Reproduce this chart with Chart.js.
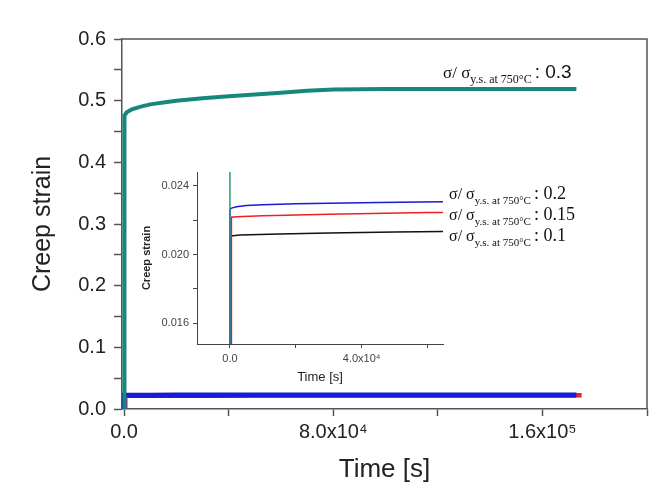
<!DOCTYPE html>
<html>
<head>
<meta charset="utf-8">
<script src="https://cdn.jsdelivr.net/npm/chart.js@4.4.0/dist/chart.umd.min.js"></script>
<style>
  html, body { margin: 0; padding: 0; background: #fff; }
  #wrap { position: relative; width: 663px; height: 499px; }
  #main { position: absolute; left: 0; top: 0; }
  #inset { position: absolute; left: 133px; top: 160px; }
</style>
</head>
<body>
<div id="wrap">
  <canvas id="main" width="663" height="499" style="width:663px;height:499px"></canvas>
  <canvas id="inset" width="330" height="235" style="width:330px;height:235px"></canvas>
</div>
<script>
"use strict";

// --- data (time in s, creep strain) ---
const T_03 = [0, 0, 300, 1000, 3000, 6000, 10000, 15000, 20000, 30000, 40000, 50000, 60000, 70000, 80000, 100000, 130000, 173000];
const S_03 = [0, 0.47, 0.476, 0.481, 0.486, 0.490, 0.494, 0.497, 0.500, 0.504, 0.507, 0.510, 0.513, 0.516, 0.518, 0.519, 0.519, 0.519];

const T_02 = [0, 0, 500, 2000, 5000, 10000, 20000, 30000, 45000, 65000, 100000, 173000];
const S_02 = [0, 0.02264, 0.02270, 0.02278, 0.02285, 0.02290, 0.02295, 0.02298, 0.02302, 0.02307, 0.02310, 0.02312];

const T_015 = [450, 450, 2000, 10000, 30000, 60000, 100000, 175000];
const S_015 = [0, 0.02217, 0.02220, 0.02225, 0.02235, 0.02244, 0.02248, 0.02250];

const T_01 = [0, 0, 1000, 3000, 15000, 30000, 50000, 65000, 100000, 173000];
const S_01 = [0, 0.02110, 0.02110, 0.02114, 0.02120, 0.02126, 0.02131, 0.02134, 0.02136, 0.02137];

// stress ratios shown next to the curves
const RATIOS = ["0.3", "0.2", "0.15", "0.1"];

// axis ticks
const MAIN_X_TICKS = [0, 40000, 80000, 120000, 160000, 200000];
const MAIN_X_LABELS = ["0.0", "", "8.0x10\u2074", "", "1.6x10\u2075", ""];
const MAIN_Y_TICKS = [0, 0.05, 0.1, 0.15, 0.2, 0.25, 0.3, 0.35, 0.4, 0.45, 0.5, 0.55, 0.6];
const MAIN_Y_LABELS = ["0.0", "", "0.1", "", "0.2", "", "0.3", "", "0.4", "", "0.5", "", "0.6"];
const INSET_X_TICKS = [0, 20000, 40000, 60000];
const INSET_X_LABELS = ["0.0", "", "4.0x10\u2074", ""];
const INSET_Y_TICKS = [0.016, 0.018, 0.020, 0.022, 0.024];
const INSET_Y_LABELS = ["0.016", "", "0.020", "", "0.024"];

// colours
const C_TEAL = "#16887a";
const C_TEAL_IN = "#2a9a88";
const C_BLUE = "#1a1ad8";
const C_RED = "#f02020";
const C_BLACK = "#111111";
const C_AXIS = "#555555";
const C_TEXT = "#222222";
const SANS = '"Liberation Sans", Arial, sans-serif';
const SERIF = '"Liberation Serif", "Times New Roman", serif';

function pts(ts, ss) {
  return ts.map((t, i) => ({ x: t, y: ss[i] }));
}

function series(ts, ss, color, width) {
  return {
    data: pts(ts, ss),
    borderColor: color,
    backgroundColor: color,
    borderWidth: width,
    pointRadius: 0,
    tension: 0,
    fill: false,
  };
}

function fixTicks(values) {
  return (s) => { s.ticks = values.map((v) => ({ value: v })); };
}

// σ/ σ_{y.s. at 750°C} : value
function drawRatio(ctx, x, y, val, sig, sub, num, numFam) {
  ctx.save();
  ctx.fillStyle = "#111";
  ctx.textAlign = "left";
  ctx.textBaseline = "alphabetic";
  ctx.font = sig + "px " + SERIF;
  ctx.fillText("\u03c3/ \u03c3", x, y);
  x += ctx.measureText("\u03c3/ \u03c3").width;
  ctx.font = sub + "px " + SERIF;
  ctx.fillText("y.s. at 750\u00b0C", x, y + sub * 0.45);
  x += ctx.measureText("y.s. at 750\u00b0C").width + 3;
  ctx.font = num + "px " + numFam;
  ctx.fillText(": " + val, x, y);
  ctx.restore();
}

const framePlugin = {
  id: "frame",
  afterDraw(chart) {
    const a = chart.chartArea, ctx = chart.ctx;
    ctx.save();
    ctx.strokeStyle = C_AXIS;
    ctx.lineWidth = 1.5;
    ctx.beginPath();
    ctx.moveTo(a.left, a.top);
    ctx.lineTo(a.right, a.top);
    ctx.lineTo(a.right, a.bottom);
    ctx.stroke();
    ctx.restore();
  },
};

const labelPlugin = {
  id: "ratioLabels",
  afterDraw(chart) {
    const ctx = chart.ctx;
    drawRatio(ctx, 443, 78, RATIOS[0], 17, 12, 19, SANS);
    drawRatio(ctx, 449, 199, RATIOS[1], 16, 11, 18, SERIF);
    drawRatio(ctx, 449, 220, RATIOS[2], 16, 11, 18, SERIF);
    drawRatio(ctx, 449, 241, RATIOS[3], 16, 11, 18, SERIF);
  },
};

new Chart(document.getElementById("main").getContext("2d"), {
  type: "line",
  data: {
    datasets: [
      series(T_03, S_03, C_TEAL, 4),
      series(T_02, S_02, C_BLUE, 4.5),
      series(T_015, S_015, C_RED, 4.5),
      series(T_01, S_01, C_BLACK, 4),
    ],
  },
  options: {
    responsive: false,
    animation: false,
    layout: { padding: { top: 39, right: 16, left: 0, bottom: 0 } },
    plugins: { legend: { display: false }, tooltip: { enabled: false } },
    scales: {
      x: {
        type: "linear",
        min: -800,
        max: 200000,
        afterFit: (s) => { s.height = 90; },
        afterBuildTicks: fixTicks(MAIN_X_TICKS),
        grid: { drawOnChartArea: false, tickLength: 7, tickColor: C_AXIS, tickWidth: 1.5 },
        border: { color: C_AXIS, width: 1.5 },
        ticks: {
          autoSkip: false, maxRotation: 0, padding: 4, color: C_TEXT,
          font: { family: SANS, size: 20 },
          callback: (v, i) => MAIN_X_LABELS[i],
        },
        title: { display: true, text: "Time [s]", color: C_TEXT, font: { family: SANS, size: 26 }, padding: { top: 0, bottom: 14 } },
      },
      y: {
        type: "linear",
        min: 0,
        max: 0.6,
        afterFit: (s) => { s.width = 122; },
        afterBuildTicks: fixTicks(MAIN_Y_TICKS),
        grid: { drawOnChartArea: false, tickLength: 8, tickColor: C_AXIS, tickWidth: 1.5 },
        border: { color: C_AXIS, width: 1.5 },
        ticks: {
          autoSkip: false, padding: 8, color: C_TEXT,
          font: { family: SANS, size: 20 },
          callback: (v, i) => MAIN_Y_LABELS[i],
        },
        title: { display: true, text: "Creep strain", color: C_TEXT, font: { family: SANS, size: 25 }, padding: { top: 28, bottom: 0 } },
      },
    },
  },
  plugins: [framePlugin, labelPlugin],
});

new Chart(document.getElementById("inset").getContext("2d"), {
  type: "line",
  data: {
    datasets: [
      series(T_03, S_03, C_TEAL_IN, 1.5),
      series(T_02, S_02, C_BLUE, 1.5),
      series(T_015, S_015, C_RED, 1.5),
      series(T_01, S_01, C_BLACK, 1.5),
    ],
  },
  options: {
    responsive: false,
    animation: false,
    layout: { padding: { top: 12, right: 20, left: 0, bottom: 0 } },
    plugins: { legend: { display: false }, tooltip: { enabled: false } },
    scales: {
      x: {
        type: "linear",
        min: -10000,
        max: 64700,
        afterFit: (s) => { s.height = 51; },
        afterBuildTicks: fixTicks(INSET_X_TICKS),
        grid: { drawOnChartArea: false, tickLength: 4, tickColor: "#444" },
        border: { color: "#444", width: 1 },
        ticks: {
          autoSkip: false, maxRotation: 0, padding: 4, color: "#444",
          font: { family: SANS, size: 11 },
          callback: (v, i) => INSET_X_LABELS[i],
        },
        title: { display: true, text: "Time [s]", color: C_TEXT, font: { family: SANS, size: 13 }, padding: { top: 0, bottom: 10 } },
      },
      y: {
        type: "linear",
        min: 0.0148,
        max: 0.0248,
        afterFit: (s) => { s.width = 64; },
        afterBuildTicks: fixTicks(INSET_Y_TICKS),
        grid: { drawOnChartArea: false, tickLength: 4, tickColor: "#444" },
        border: { color: "#444", width: 1 },
        ticks: {
          autoSkip: false, padding: 4, color: "#444",
          font: { family: SANS, size: 11 },
          callback: (v, i) => INSET_Y_LABELS[i],
        },
        title: { display: true, text: "Creep strain", color: C_TEXT, font: { family: SANS, size: 11, weight: "bold" }, padding: { top: 7, bottom: 0 } },
      },
    },
  },
});
</script>
</body>
</html>
